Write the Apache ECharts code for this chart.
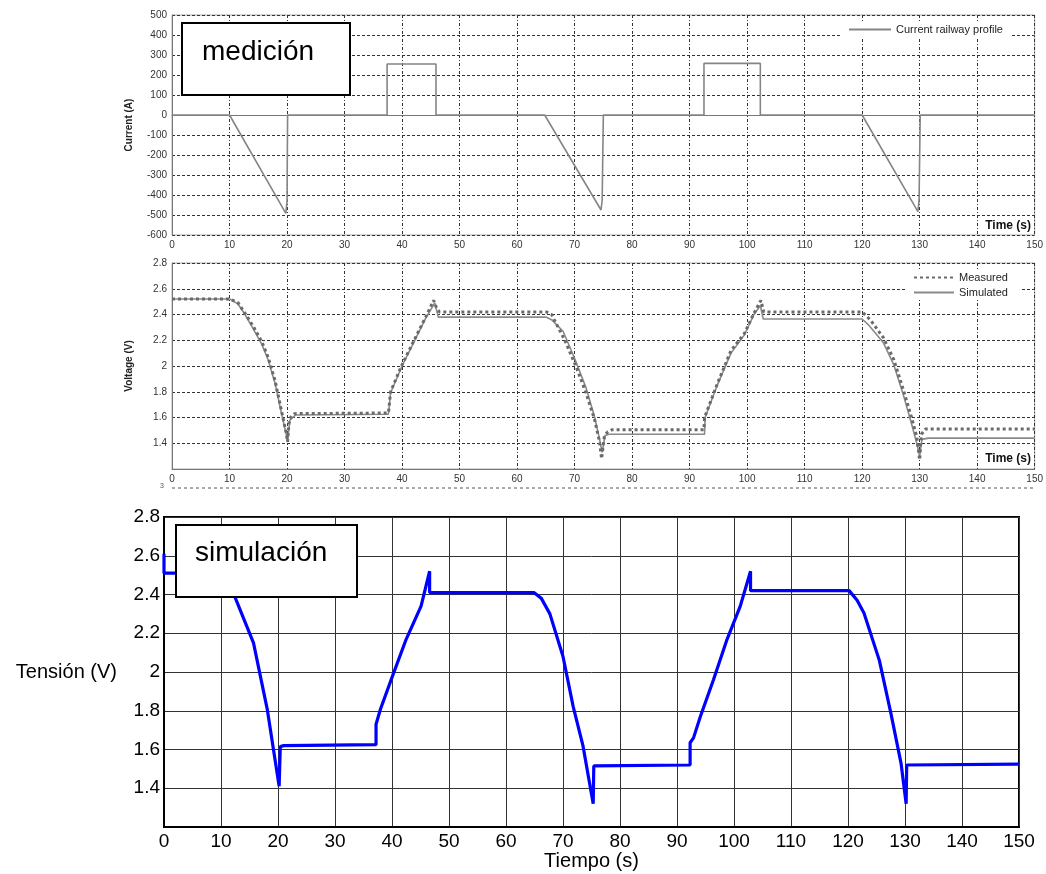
<!DOCTYPE html>
<html>
<head>
<meta charset="utf-8">
<script src="https://cdn.jsdelivr.net/npm/echarts@6/dist/echarts.min.js"></script>
<style>
html,body{margin:0;padding:0;background:#fff;}
#chart{width:1046px;height:874px;}
</style>
</head>
<body>
<div id="chart"></div>
<script>
// ---- Data ----
// Top panel: current railway profile
const currentT = [0, 10.0, 19.8, 20.0, 20.1, 37.4, 37.4, 45.9, 45.9, 64.8, 74.6, 74.8, 75.0, 92.5, 92.5, 102.3, 102.3, 120.0, 129.7, 129.9, 130.1, 150];
const currentA = [0, 0, -492, -430, 0, 0, 255, 255, 0, 0, -475, -425, 0, 0, 258, 258, 0, 0, -483, -425, 0, 0];

// Middle panel: measured voltage
const measT = [0, 10.1, 11.5, 12.7, 14.1, 15.6, 16.7, 17.9, 19.0, 19.9, 20.1, 20.4, 21.3, 37.6, 37.7, 38.0, 40.0, 42.1, 44.1, 45.5, 46.0, 46.5, 65.1, 66.0, 68.3, 70.3, 72.0, 73.5, 74.3, 74.7, 75.2, 75.8, 76.5, 92.5, 92.6, 94.8, 97.2, 99.5, 101.2, 102.4, 102.9, 120.0, 121.4, 123.7, 125.5, 127.2, 128.6, 129.5, 130.0, 130.3, 131.0, 150];
const measV = [2.52, 2.52, 2.49, 2.41, 2.31, 2.19, 2.07, 1.89, 1.66, 1.47, 1.41, 1.59, 1.63, 1.635, 1.66, 1.80, 2.01, 2.20, 2.38, 2.51, 2.45, 2.42, 2.42, 2.40, 2.20, 1.99, 1.79, 1.58, 1.42, 1.28, 1.46, 1.49, 1.505, 1.505, 1.60, 1.86, 2.12, 2.25, 2.41, 2.51, 2.42, 2.42, 2.36, 2.22, 2.05, 1.81, 1.60, 1.45, 1.27, 1.47, 1.51, 1.51];

// Middle panel: simulated voltage
const simT = [0, 10.1, 11.5, 12.7, 14.1, 15.6, 16.7, 17.9, 19.0, 19.9, 20.1, 20.5, 21.5, 37.6, 37.7, 38.0, 40.0, 42.1, 44.1, 45.7, 46.3, 65.0, 66.0, 68.0, 70.0, 72.0, 73.5, 74.3, 74.8, 75.3, 76.0, 92.6, 92.7, 94.8, 97.2, 99.5, 101.2, 102.3, 102.8, 120.0, 121.1, 123.7, 125.5, 127.2, 128.6, 129.5, 130.0, 130.4, 131.5, 150];
const simV = [2.52, 2.52, 2.48, 2.40, 2.29, 2.17, 2.05, 1.87, 1.64, 1.46, 1.42, 1.58, 1.62, 1.625, 1.65, 1.79, 2.00, 2.19, 2.37, 2.49, 2.38, 2.38, 2.36, 2.27, 2.06, 1.83, 1.60, 1.44, 1.33, 1.46, 1.47, 1.47, 1.60, 1.85, 2.10, 2.24, 2.40, 2.47, 2.365, 2.365, 2.32, 2.18, 2.01, 1.77, 1.55, 1.40, 1.30, 1.43, 1.44, 1.44];

// Bottom panel: simulation (blue)
const blueT = [0, 0, 10.2, 11.0, 12.4, 15.7, 18.1, 20.2, 20.4, 20.4, 21.0, 37.2, 37.2, 38.0, 40.1, 42.5, 45.1, 46.6, 46.6, 64.9, 66.2, 67.7, 70.0, 71.8, 73.5, 75.3, 75.4, 75.4, 92.3, 92.3, 92.9, 94.1, 96.4, 98.8, 101.1, 102.9, 102.9, 120.2, 121.6, 122.8, 125.5, 127.5, 129.3, 130.2, 130.3, 130.3, 150];
const blueV = [2.61, 2.51, 2.51, 2.49, 2.39, 2.15, 1.81, 1.41, 1.41, 1.615, 1.62, 1.625, 1.73, 1.81, 1.98, 2.17, 2.34, 2.52, 2.41, 2.41, 2.38, 2.30, 2.08, 1.82, 1.62, 1.32, 1.32, 1.515, 1.52, 1.635, 1.66, 1.77, 1.96, 2.17, 2.34, 2.52, 2.42, 2.42, 2.37, 2.305, 2.06, 1.79, 1.53, 1.32, 1.32, 1.52, 1.525];

// Texts
const seriesNames = ['Current railway profile', 'Measured', 'Simulated', 'simulación'];
const panelLabels = ['medición', 'simulación'];
const axisNames = ['Current (A)', 'Voltage (V)', 'Time (s)', 'Tensión (V)', 'Tiempo (s)'];

const zip = (a, b) => a.map((v, i) => [v, b[i]]);
const FONT = 'Liberation Sans, Arial, sans-serif';
const fmtV = v => (Math.abs(v - 1.2) < 1e-6 ? '' : String(Number(v.toFixed(1))));

const chart = echarts.init(document.getElementById('chart'), null, {renderer: 'canvas'});

const smallAxisX = (gi) => ({
  type: 'value', gridIndex: gi, min: 0, max: 150, interval: 10,
  axisLine: {show: true, lineStyle: {color: '#777', width: 1}},
  axisTick: {show: false},
  axisLabel: {fontSize: 10, color: '#333', margin: 5, fontFamily: FONT},
  splitLine: {show: true, lineStyle: {color: '#333', width: 1, type: [3, 2, 1, 2]}}
});

const option = {
  animation: false,
  backgroundColor: '#fff',
  textStyle: {fontFamily: FONT},
  grid: [
    {left: 172, top: 15, width: 863, height: 220, show: true, borderColor: '#aaa', borderWidth: 1},
    {left: 172, top: 263, width: 863, height: 206, show: true, borderColor: '#aaa', borderWidth: 1},
    {left: 164, top: 517, width: 855, height: 310, show: true, borderColor: '#000', borderWidth: 2}
  ],
  xAxis: [
    smallAxisX(0),
    smallAxisX(1),
    {
      type: 'value', gridIndex: 2, min: 0, max: 150, interval: 10,
      axisLine: {show: true, lineStyle: {color: '#000', width: 2}},
      axisTick: {show: false},
      axisLabel: {fontSize: 19, color: '#000', margin: 5, fontFamily: FONT},
      splitLine: {show: true, lineStyle: {color: '#333', width: 1}},
      name: axisNames[4], nameLocation: 'middle', nameGap: 24,
      nameTextStyle: {fontSize: 20, color: '#000', fontFamily: FONT}
    }
  ],
  yAxis: [
    {
      type: 'value', gridIndex: 0, min: -600, max: 500, interval: 100,
      axisLine: {show: true, lineStyle: {color: '#777', width: 1}},
      axisTick: {show: false},
      axisLabel: {fontSize: 10, color: '#333', margin: 5, fontFamily: FONT},
      splitLine: {show: true, lineStyle: {color: '#333', width: 1, type: [3, 2]}},
      name: axisNames[0], nameLocation: 'middle', nameGap: 38,
      nameTextStyle: {fontSize: 10, fontWeight: 'bold', color: '#222', fontFamily: FONT}
    },
    {
      type: 'value', gridIndex: 1, min: 1.2, max: 2.8, interval: 0.2,
      axisLine: {show: true, lineStyle: {color: '#777', width: 1}},
      axisTick: {show: false},
      axisLabel: {fontSize: 10, color: '#333', margin: 5, fontFamily: FONT, formatter: fmtV},
      splitLine: {show: true, lineStyle: {color: '#333', width: 1, type: [3, 2]}},
      name: axisNames[1], nameLocation: 'middle', nameGap: 38,
      nameTextStyle: {fontSize: 10, fontWeight: 'bold', color: '#222', fontFamily: FONT}
    },
    {
      type: 'value', gridIndex: 2, min: 1.2, max: 2.8, interval: 0.2,
      axisLine: {show: true, lineStyle: {color: '#000', width: 2}},
      axisTick: {show: false},
      axisLabel: {fontSize: 19, color: '#000', margin: 4, fontFamily: FONT, formatter: fmtV},
      splitLine: {show: true, lineStyle: {color: '#333', width: 1}},
      name: axisNames[3], nameLocation: 'middle', nameRotate: 0, nameGap: 47,
      nameTextStyle: {fontSize: 20, color: '#000', fontFamily: FONT}
    }
  ],
  legend: [
    {
      data: [seriesNames[0]], left: 842, top: 22, orient: 'vertical',
      backgroundColor: '#fff', padding: [2, 8, 2, 6],
      itemWidth: 42, itemHeight: 11, itemGap: 4,
      itemStyle: {opacity: 0},
      textStyle: {fontSize: 11, color: '#222', fontFamily: FONT}
    },
    {
      data: [seriesNames[1], seriesNames[2]], left: 905, top: 270, orient: 'vertical',
      backgroundColor: '#fff', padding: [2, 12, 2, 8],
      itemWidth: 40, itemHeight: 11, itemGap: 4,
      itemStyle: {opacity: 0},
      textStyle: {fontSize: 11, color: '#222', fontFamily: FONT}
    }
  ],
  series: [
    {
      name: seriesNames[0], type: 'line', xAxisIndex: 0, yAxisIndex: 0,
      data: zip(currentT, currentA), symbol: 'none', showSymbol: false,
      lineStyle: {color: '#858585', width: 1.6}, itemStyle: {color: '#858585'}
    },
    {
      name: seriesNames[2], type: 'line', xAxisIndex: 1, yAxisIndex: 1,
      data: zip(simT, simV), symbol: 'none', showSymbol: false,
      lineStyle: {color: '#8a8a8a', width: 1.6}, itemStyle: {color: '#8a8a8a'}
    },
    {
      name: seriesNames[1], type: 'line', xAxisIndex: 1, yAxisIndex: 1,
      data: zip(measT, measV), symbol: 'none', showSymbol: false,
      lineStyle: {color: '#6a6a6a', width: 3, type: [3, 3]}, itemStyle: {color: '#6a6a6a'}
    },
    {
      name: seriesNames[3], type: 'line', xAxisIndex: 2, yAxisIndex: 2,
      data: zip(blueT, blueV), symbol: 'none', showSymbol: false,
      lineStyle: {color: '#0000ff', width: 3.2}, itemStyle: {color: '#0000ff'}
    }
  ],
  graphic: [
    {type: 'rect', z: 100, shape: {x: 182, y: 23, width: 168, height: 72},
     style: {fill: '#fff', stroke: '#000', lineWidth: 2}},
    {type: 'text', z: 101, x: 202, y: 52,
     style: {text: panelLabels[0], font: '28px ' + FONT, fill: '#000', verticalAlign: 'middle'}},
    {type: 'rect', z: 100, shape: {x: 176, y: 525, width: 181, height: 72},
     style: {fill: '#fff', stroke: '#000', lineWidth: 2}},
    {type: 'text', z: 101, x: 195, y: 553,
     style: {text: panelLabels[1], font: '28px ' + FONT, fill: '#000', verticalAlign: 'middle'}},
    {type: 'text', z: 101, x: 1031, y: 226,
     style: {text: axisNames[2], font: 'bold 12px ' + FONT, fill: '#111', align: 'right', verticalAlign: 'middle'}},
    {type: 'text', z: 101, x: 1031, y: 459,
     style: {text: axisNames[2], font: 'bold 12px ' + FONT, fill: '#111', align: 'right', verticalAlign: 'middle'}},
    {type: 'line', z: 50, shape: {x1: 172, y1: 488, x2: 1035, y2: 488},
     style: {stroke: '#555', lineWidth: 1, lineDash: [3, 3]}},
    {type: 'text', z: 50, x: 160, y: 486,
     style: {text: '3', font: '7px ' + FONT, fill: '#555', verticalAlign: 'middle'}}
  ]
};
chart.setOption(option);
</script>
</body>
</html>
